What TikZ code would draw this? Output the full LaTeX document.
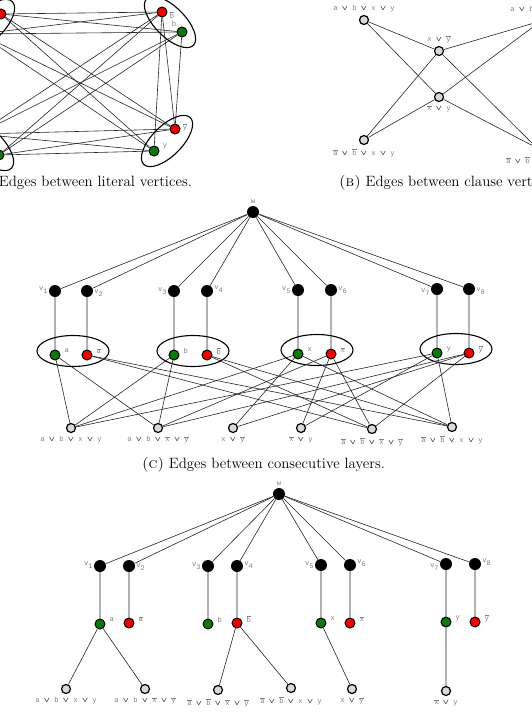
\documentclass[tikz,border=0pt]{standalone}
\usepackage{amsmath}
\usepackage{bm}
\usepackage{fontspec}
\usetikzlibrary{positioning}
\newfontfamily\fuenteEtq{Liberation Mono}
\definecolor{litVerde}{HTML}{0B7A0B}
\definecolor{litRojo}{HTML}{F20000}
\definecolor{grisClaus}{HTML}{D9D9D9}
\newcommand{\disy}{\textcolor{black}{$\bm{\vee}$}}
\newcommand{\negl}[1]{$\overline{\mbox{#1}}$}
\newcommand{\vsub}[1]{v\raisebox{-2.5pt}{\fontsize{7}{8}\selectfont#1}}

\begin{document}
\begin{tikzpicture}[
    x=1pt, y=-1pt,
    arista/.style={draw=black!85, line width=0.6pt},
    verticeVar/.style={circle, fill=black, minimum size=12pt, inner sep=0pt},
    litPos/.style={circle, draw=black, line width=1pt, fill=litVerde, minimum size=10pt, inner sep=0pt},
    litNeg/.style={litPos, fill=litRojo},
    clausula/.style={circle, draw=black, line width=1.2pt, fill=grisClaus, minimum size=9pt, inner sep=0pt},
    parElipse/.style={draw=black, line width=1.1pt},
    etiqueta/.style={font=\fuenteEtq\fontsize{7.2}{8}\selectfont, text=black!50, inner sep=1pt},
    leyenda/.style={font=\fontsize{14.9}{17}\selectfont, inner sep=0pt}
  ]
  \useasboundingbox (0,0) rectangle (532,718);
  \clip (0,0) rectangle (532,718);

  % (a) Aristas entre vertices literales
  \foreach \nm/\x/\y/\sty in {a/-20/34/litPos, na/1/14/litNeg, nb/162/12/litNeg, b/182/32/litPos,
                              ny/175/129/litNeg, y/154/151/litPos, nx/-22/134/litNeg, x/-1/155/litPos}
    \node[\sty] (A\nm) at (\x,\y) {};
  \foreach \nm/\x/\y/\txt in {nb/172/15/\negl{b}, b/174/24/b, ny/185/127/\negl{y}, y/165/146/y}
    \node[etiqueta] (A\nm t) at (\x,\y) {\txt};
  \foreach \i in {a,na,x,nx}
    \foreach \j in {nb,b,ny,y}
      \draw[arista] (A\i) -- (A\j);
  \draw[arista] (Anb) -- (Ay) (Anb) -- (Any) (Ab) -- (Any);
  \draw[parElipse, rotate around={-45:(170,22)}] (170,22) ellipse [x radius=33, y radius=15];
  \draw[parElipse, rotate around={45:(167,141)}] (167,141) ellipse [x radius=33, y radius=15];
  \draw[parElipse, rotate around={45:(-11,25)}] (-11,25) ellipse [x radius=33, y radius=15];
  \draw[parElipse, rotate around={-45:(-12,145)}] (-12,145) ellipse [x radius=33, y radius=15];
  \node[leyenda, anchor=east] (capA) at (192,183) {\textsc{(a)} Edges between literal vertices.};

  % (b) Aristas entre vertices clausula
  \node[clausula] (Btl) at (364,20) {};
  \node[clausula] (Btr) at (541,21) {};
  \node[clausula] (Bm1) at (439,51) {};
  \node[clausula] (Bm2) at (439,97) {};
  \node[clausula] (Bbl) at (364,140) {};
  \node[clausula] (Bbr) at (537,148) {};
  \node[etiqueta, above=2pt of Btl] (Btlt) {a \disy{} b \disy{} x \disy{} y};
  \node[etiqueta, above=2pt of Btr] (Btrt) {a \disy{} b \disy{} \negl{x} \disy{} \negl{y}};
  \node[etiqueta, above=2pt of Bm1] (Bm1t) {x \disy{} \negl{y}};
  \node[etiqueta, below=2pt of Bm2] (Bm2t) {\negl{x} \disy{} y};
  \node[etiqueta, below=2pt of Bbl] (Bblt) {\negl{a} \disy{} \negl{b} \disy{} x \disy{} y};
  \node[etiqueta, below=2pt of Bbr] (Bbrt) {\negl{a} \disy{} \negl{b} \disy{} \negl{x} \disy{} \negl{y}};
  \foreach \m in {Bm1,Bm2}
    \foreach \k in {Btl,Bbl,Btr,Bbr}
      \draw[arista] (\m) -- (\k);
  \node[leyenda, anchor=west] (capB) at (339,183) {\textsc{(b)} Edges between clause vertices.};

  % (c) Capas consecutivas
  \node[verticeVar] (Cw) at (253,212) {};
  \node[etiqueta, above=1pt of Cw] (Cwt) {w};
  \foreach \i/\x/\y/\nm in {1/55/291/a, 2/87/291/na, 3/174/291/b, 4/207/291/nb,
                            5/298/290/x, 6/331/290/nx, 7/437/289/y, 8/469/289/ny}
    \node[verticeVar] (Cv\i) at (\x,\y) {};
  \foreach \i/\anc/\lado/\dy in {1/east/west/1, 2/west/east/-2, 3/east/west/0, 4/west/east/2,
                                 5/east/west/0, 6/west/east/0, 7/east/west/-3, 8/west/east/-2}
    \node[etiqueta, anchor=\anc, yshift=\dy pt] (Cv\i t) at (Cv\i.\lado) {\vsub{\i}};
  \foreach \nm/\x/\y/\sty/\txt in {a/55/355/litPos/a, na/87/355/litNeg/\negl{a}, b/174/355/litPos/b, nb/207/355/litNeg/\negl{b},
                                   x/298/354/litPos/x, nx/331/354/litNeg/\negl{x}, y/437/353/litPos/y, ny/469/353/litNeg/\negl{y}}
  {
    \node[\sty] (C\nm) at (\x,\y) {};
    \node[etiqueta, anchor=west, xshift=3pt, yshift=4pt] (C\nm t) at (C\nm.east) {\txt};
  }
  \foreach \i/\nm in {1/a, 2/na, 3/b, 4/nb, 5/x, 6/nx, 7/y, 8/ny}
    \draw[arista] (Cw) -- (Cv\i) (Cv\i) -- (C\nm);
  \foreach \x/\y in {73/351, 193/351, 317/350, 456/349}
    \draw[parElipse] (\x,\y) ellipse [x radius=36, y radius=15.5];
  \foreach \i/\x/\y/\txt in {1/71/428/{a \disy{} b \disy{} x \disy{} y},
                             2/158/428/{a \disy{} b \disy{} \negl{x} \disy{} \negl{y}},
                             3/233/428/{x \disy{} \negl{y}},
                             4/301/428/{\negl{x} \disy{} y},
                             5/372/429/{\negl{a} \disy{} \negl{b} \disy{} \negl{x} \disy{} \negl{y}},
                             6/452/427/{\negl{a} \disy{} \negl{b} \disy{} x \disy{} y}}
  {
    \node[clausula] (Cc\i) at (\x,\y) {};
    \node[etiqueta, below=2pt of Cc\i] (Cc\i t) {\txt};
  }
  \foreach \l/\cs in {a/{1,2}, na/{5,6}, b/{1,2}, nb/{5,6}, x/{1,3,6}, nx/{2,4,5}, y/{1,4,6}, ny/{2,3,5}}
    \foreach \c in \cs
      \draw[arista] (C\l) -- (Cc\c);
  \node[leyenda, anchor=west] (capC) at (142,465) {\textsc{(c)} Edges between consecutive layers.};

  % (d) Arbol
  \node[verticeVar] (Dw) at (279,494) {};
  \node[etiqueta, above=1pt of Dw] (Dwt) {w};
  \foreach \i/\x/\y in {1/100/566, 2/129/566, 3/208/566, 4/237/566,
                        5/321/565, 6/350/565, 7/446/564, 8/475/564}
    \node[verticeVar] (Dv\i) at (\x,\y) {};
  \foreach \i/\anc/\lado/\dy in {1/east/west/1, 2/west/east/-1, 3/east/west/0, 4/west/east/1,
                                 5/east/west/0, 6/west/east/2, 7/east/west/-3, 8/west/east/2}
    \node[etiqueta, anchor=\anc, yshift=\dy pt] (Dv\i t) at (Dv\i.\lado) {\vsub{\i}};
  \foreach \nm/\x/\y/\sty/\txt in {a/100/624/litPos/a, na/129/623/litNeg/\negl{a}, b/208/624/litPos/b, nb/237/623/litNeg/\negl{b},
                                   x/321/623/litPos/x, nx/350/623/litNeg/\negl{x}, y/446/622/litPos/y, ny/475/622/litNeg/\negl{y}}
  {
    \node[\sty] (D\nm) at (\x,\y) {};
    \node[etiqueta, anchor=west, xshift=3pt, yshift=4pt] (D\nm t) at (D\nm.east) {\txt};
  }
  \foreach \i/\nm in {1/a, 2/na, 3/b, 4/nb, 5/x, 6/nx, 7/y, 8/ny}
    \draw[arista] (Dw) -- (Dv\i) (Dv\i) -- (D\nm);
  \foreach \i/\x/\y/\txt in {1/66/689/{a \disy{} b \disy{} x \disy{} y},
                             2/145/689/{a \disy{} b \disy{} \negl{x} \disy{} \negl{y}},
                             3/218/690/{\negl{a} \disy{} \negl{b} \disy{} \negl{x} \disy{} \negl{y}},
                             4/291/688/{\negl{a} \disy{} \negl{b} \disy{} x \disy{} y},
                             5/352/689/{x \disy{} \negl{y}},
                             6/446/691/{\negl{x} \disy{} y}}
  {
    \node[clausula] (Dc\i) at (\x,\y) {};
    \node[etiqueta, below=2pt of Dc\i] (Dc\i t) {\txt};
  }
  \draw[arista] (Da) -- (Dc1) (Da) -- (Dc2) (Dnb) -- (Dc3) (Dnb) -- (Dc4) (Dx) -- (Dc5) (Dy) -- (Dc6);
\end{tikzpicture}
\end{document}
